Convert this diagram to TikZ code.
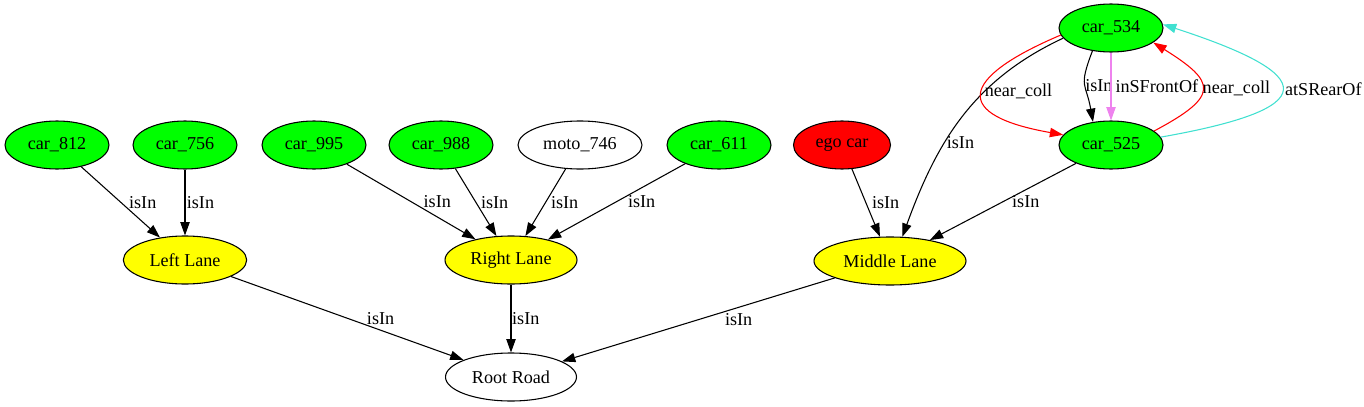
\documentclass[tikz,border=0pt]{standalone}
\usepackage{fontspec}
\setmainfont{Liberation Serif}
\usepackage{tikz}
\usetikzlibrary{shapes.geometric,arrows.meta}
\definecolor{carGreen}{RGB}{0,255,0}
\definecolor{laneYellow}{RGB}{255,255,0}
\definecolor{egoRed}{RGB}{255,0,0}
\definecolor{frontViolet}{RGB}{238,130,238}
\definecolor{rearTurq}{RGB}{64,224,208}
\tikzset{
	ent/.style={ellipse, draw=black, line width=0.8pt, inner sep=0pt, minimum width=78pt, minimum height=36pt, font=\fontsize{13.6}{16}\selectfont},
	car/.style={ent, fill=carGreen},
	lane/.style={ent, fill=laneYellow},
	rel/.style={line width=0.8pt, -{Triangle[length=10pt,width=7pt]}},
	lbl/.style={font=\fontsize{13.6}{16}\selectfont, text=black, inner sep=0pt, anchor=west}
}

\begin{document}
\begin{tikzpicture}[x=0.75pt,y=0.75pt]
		\useasboundingbox (0,0) rectangle (1364,-407);
		% vehicles
		\node[car] (c812) at (57,-145) {car\_812};
		\node[car] (c756) at (185,-145) {car\_756};
		\node[car] (c995) at (314,-145) {car\_995};
		\node[car] (c988) at (441,-145) {car\_988};
		\node[ent,minimum width=93pt] (m746) at (580,-145) {moto\_746};
		\node[car] (c611) at (719,-145) {car\_611};
		\node[ent,fill=egoRed,minimum width=72.75pt] (ego) at (842,-145) {ego car};
		\node[car] (c534) at (1111,-28) {car\_534};
		\node[car] (c525) at (1111,-145) {car\_525};
		% lanes and road
		\node[lane,minimum width=92.5pt] (leftLane) at (185,-260) {Left Lane};
		\node[lane,minimum width=99pt] (rightLane) at (511,-260) {Right Lane};
		\node[lane,minimum width=114pt] (midLane) at (890,-261) {Middle Lane};
		\node[ent,minimum width=98.25pt] (road) at (511,-377) {Root Road};
		% vehicles in lanes
		\draw[rel] (c812) -- node[lbl,xshift=6pt] {isIn} (leftLane);
		\draw[rel] (c756) -- node[lbl,xshift=1pt] {isIn} (leftLane);
		\draw[rel] (c995) -- node[lbl,xshift=9pt] {isIn} (rightLane);
		\draw[rel] (c988) -- node[lbl,xshift=3.5pt] {isIn} (rightLane);
		\draw[rel] (m746) -- node[lbl,xshift=3.75pt] {isIn} (rightLane);
		\draw[rel] (c611) -- node[lbl,xshift=8.25pt] {isIn} (rightLane);
		\draw[rel] (ego) -- node[lbl,xshift=4.2pt] {isIn} (midLane);
		\draw[rel] (c525) -- node[lbl,xshift=6.5pt] {isIn} (midLane);
		\draw[rel] (c534.192) to[out=205,in=70] node[lbl,pos=0.62,xshift=1pt] {isIn} (midLane.63);
		% lanes in road
		\draw[rel] (leftLane) -- node[lbl,xshift=14.4pt] {isIn} (road);
		\draw[rel] (rightLane) -- node[lbl,xshift=0.5pt] {isIn} (road);
		\draw[rel] (midLane) -- node[lbl,xshift=19.7pt] {isIn} (road);
		% relations between car_534 and car_525
		\draw[rel,red] (c534.188) to[out=203,in=170,distance=84pt] node[lbl,pos=0.47,xshift=1.5pt] {near\_coll} (c525.168);
		\draw[rel] (c534.231) to[out=249,in=100,distance=30pt] node[lbl,pos=0.5] {isIn} (c525.128);
		\draw[rel,frontViolet] (c534) -- node[lbl,xshift=3pt] {inSFrontOf} (c525);
		\draw[rel,red] (c525.18) to[out=28,in=-32,distance=56pt] node[lbl,pos=0.5,xshift=0pt] {near\_coll} (c534.341);
		\draw[rel,rearTurq] (c525.9) to[out=10,in=-18,distance=124pt] node[lbl,pos=0.5,xshift=2pt] {atSRearOf} (c534.4);
	\end{tikzpicture}
\end{document}
